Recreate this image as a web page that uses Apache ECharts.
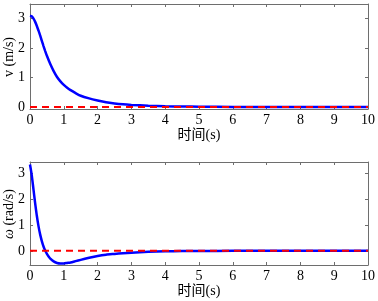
<!DOCTYPE html>
<html lang="zh">
<head>
	<meta charset="UTF-8">
	<title>v / omega</title>
	<script src="https://cdn.jsdelivr.net/npm/echarts@6/dist/echarts.min.js"></script>
	<style>
		html, body { margin: 0; padding: 0; background: #fff; }
		#main { width: 378px; height: 301px; }
	</style>
</head>
<body>
	<div id="main"></div>
	<script>
		// 读图得到的数据
		const tV = [0, 0.05, 0.1, 0.15, 0.2, 0.25, 0.3, 0.35, 0.4, 0.45, 0.5, 0.6, 0.7, 0.8, 0.9, 1.0, 1.1, 1.2, 1.35, 1.5, 1.75, 2, 2.25, 2.5, 2.75, 3, 3.5, 4, 4.5, 5, 6, 8, 10];
		const vVals = [3.1, 3.08, 3.01, 2.9, 2.76, 2.6, 2.43, 2.25, 2.07, 1.9, 1.74, 1.46, 1.22, 1.02, 0.87, 0.75, 0.65, 0.57, 0.47, 0.38, 0.29, 0.22, 0.16, 0.12, 0.09, 0.07, 0.04, 0.02, 0.015, 0.01, 0, 0, 0];

		const tW = [0, 0.05, 0.1, 0.15, 0.2, 0.25, 0.3, 0.35, 0.4, 0.45, 0.5, 0.55, 0.6, 0.7, 0.8, 0.9, 1.0, 1.1, 1.2, 1.35, 1.5, 1.75, 2, 2.25, 2.5, 2.75, 3, 3.5, 4, 4.5, 5, 6, 10];
		const wVals = [3.35, 2.95, 2.42, 1.87, 1.38, 0.97, 0.64, 0.38, 0.17, 0.01, -0.12, -0.22, -0.3, -0.41, -0.47, -0.49, -0.49, -0.47, -0.45, -0.4, -0.35, -0.27, -0.2, -0.15, -0.12, -0.09, -0.07, -0.04, -0.02, -0.01, -0.005, 0, 0];

		const refT = [0, 10];
		const refVals = [0, 0];

		const yTicks = [0, 1, 2, 3];
		const vName = 'v (m/s)';
		const wName = '{i|ω} (rad/s)';

		const serif = 'Liberation Serif, Noto Sans CJK SC, serif';
		const lineColor = '#6e6e6e';

		function pairs(xs, ys) {
			return xs.map((x, i) => [x, ys[i]]);
		}

		function xAx(grid, pos, show) {
			return {
				type: 'value', gridIndex: grid, position: pos,
				min: 0, max: 10, interval: 1,
				name: show ? '时间(s)' : '',
				nameLocation: 'middle', nameGap: 19,
				nameTextStyle: { fontFamily: serif, fontSize: 14, color: '#000' },
				axisLine: { show: true, onZero: false, lineStyle: { color: lineColor, width: 1 } },
				axisTick: { show: true, inside: true, length: 3, lineStyle: { color: lineColor } },
				axisLabel: { show: show, fontFamily: serif, fontSize: 14, color: '#000', margin: 4 },
				splitLine: { show: false }
			};
		}

		function yAx(grid, pos, show, min, max) {
			return {
				type: 'value', gridIndex: grid, position: pos,
				min: min, max: max,
				axisLine: { show: true, onZero: false, lineStyle: { color: lineColor, width: 1 } },
				axisTick: { show: true, inside: true, length: 3, customValues: yTicks, lineStyle: { color: lineColor } },
				axisLabel: { show: show, customValues: yTicks, fontFamily: serif, fontSize: 14, color: '#000', margin: 5 },
				splitLine: { show: false }
			};
		}

		// 纵轴标题（竖排）
		function yTitle(text, cy) {
			return {
				type: 'text', x: 9, y: cy, rotation: Math.PI / 2,
				style: {
					text: text, fill: '#000',
					font: '14px ' + serif,
					align: 'center', verticalAlign: 'middle',
					rich: { i: { fontFamily: serif, fontSize: 14, fontStyle: 'italic', fill: '#000' } }
				}
			};
		}

		const option = {
			animation: false,
			backgroundColor: '#fff',
			grid: [
				{ left: 30, right: 10, top: 4, height: 105, outerBoundsMode: 'none', containLabel: false },
				{ left: 30, right: 10, top: 162, height: 103, outerBoundsMode: 'none', containLabel: false }
			],
			graphic: [yTitle(vName, 57), yTitle(wName, 214)],
			xAxis: [
				xAx(0, 'bottom', true), xAx(0, 'top', false),
				xAx(1, 'bottom', true), xAx(1, 'top', false)
			],
			yAxis: [
				yAx(0, 'left', true, -0.07, 3.5), yAx(0, 'right', false, -0.07, 3.5),
				yAx(1, 'left', true, -0.55, 3.45), yAx(1, 'right', false, -0.55, 3.45)
			],
			series: [
				{
					type: 'line', xAxisIndex: 0, yAxisIndex: 0,
					data: pairs(tV, vVals), smooth: 0.2,
					showSymbol: false, lineStyle: { color: '#0000ff', width: 2.5 }, z: 2
				},
				{
					type: 'line', xAxisIndex: 0, yAxisIndex: 0,
					data: pairs(refT, refVals), showSymbol: false,
					lineStyle: { color: '#ff0000', width: 2, type: [7, 5] }, z: 3
				},
				{
					type: 'line', xAxisIndex: 2, yAxisIndex: 2,
					data: pairs(tW, wVals), smooth: 0.2,
					showSymbol: false, lineStyle: { color: '#0000ff', width: 2.5 }, z: 2
				},
				{
					type: 'line', xAxisIndex: 2, yAxisIndex: 2,
					data: pairs(refT, refVals), showSymbol: false,
					lineStyle: { color: '#ff0000', width: 2, type: [7, 5] }, z: 3
				}
			]
		};

		const myChart = echarts.init(document.getElementById('main'));
		myChart.setOption(option);
	</script>
</body>
</html>
